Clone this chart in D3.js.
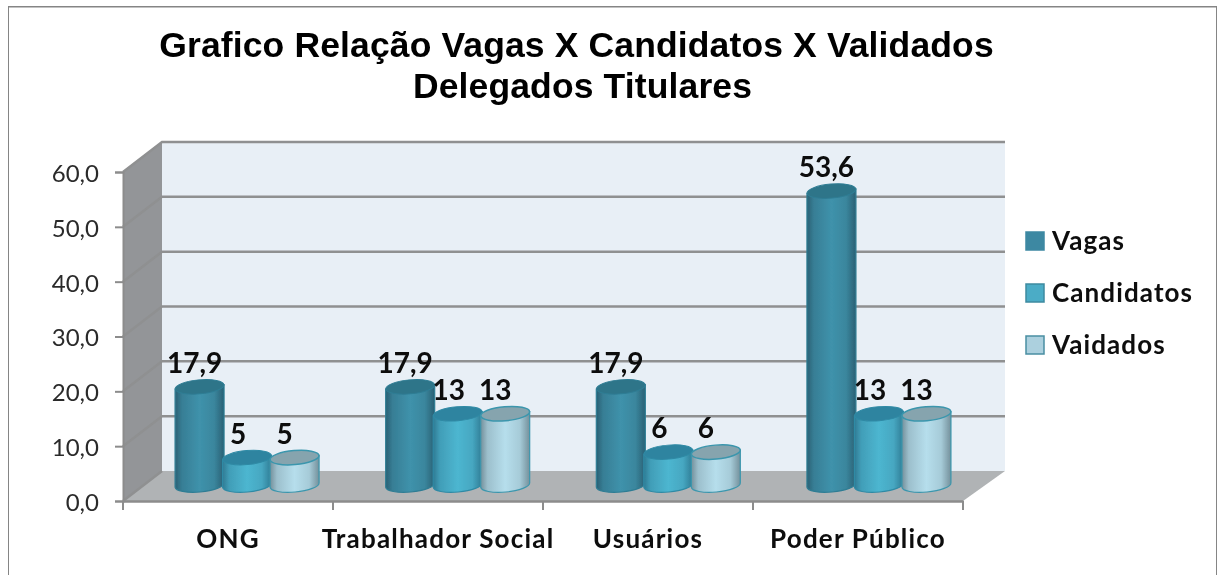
<!DOCTYPE html>
<html><head><meta charset="utf-8">
<script src="https://cdn.jsdelivr.net/npm/d3@7"></script>
<style>html,body{margin:0;padding:0;background:#fff;overflow:hidden}svg{display:block}</style>
</head><body><svg id="c" width="1218" height="575"></svg>
<script>
const categories=["ONG","Trabalhador Social","Usuários","Poder Público"];
const seriesNames=["Vagas","Candidatos","Vaidados"];
const vagas=[17.9,17.9,17.9,53.6];
const candidatos=[5,13,6,13];
const validados=[5,13,6,13];
const valueLabels=[["17,9","17,9","17,9","53,6"],["5","13","6","13"],["5","13","6","13"]];
const yTicks=[0,10,20,30,40,50,60];
const titleLines=["Grafico Relação Vagas X Candidatos X Validados","Delegados Titulares"];
const series=[vagas,candidatos,validados];
const palette=[
 {edge:"#2a6074",mid:"#3f92ab",top:"#2e7489",line:"#2f7d94",sw:"#3c88a2",swl:"#3c88a2"},
 {edge:"#2f7b94",mid:"#4db6d0",top:"#2f84a0",line:"#2f8aa5",sw:"#4bacc6",swl:"#3c8aa0"},
 {edge:"#74909b",mid:"#b6deec",top:"#86a4ae",line:"#3b96ad",sw:"#acd0de",swl:"#4a8ea2"}];

const root=d3.select("#c");
const defs=root.append("defs");
defs.append("filter").attr("id","soft").attr("x",0).attr("y",0).attr("width",1).attr("height",1)
  .append("feGaussianBlur").attr("stdDeviation",0.5);
root.append("rect").attr("width",1218).attr("height",575).attr("fill","#fff");
const svg=root.append("g").attr("filter","url(#soft)");
const fmt=d=>d3.format(".1f")(d).replace(".",",");
const xFront=d3.scaleBand().domain(categories).range([123,963]);
const xBars=d3.scaleBand().domain(categories).range([143.5,986]);
const xSeries=d3.scaleBand().domain([0,1,2]).range([-73,69.5]);
const yFront=d3.scaleLinear().domain([0,60]).range([501,172]);
const yBack=d3.scaleLinear().domain([0,60]).range([471,142]);
const yBar=d3.scaleLinear().domain([0,60]).range([485,156]);
const backR=1005, backL=162;

// frame
svg.append("path").attr("d","M8,580V6.5H1217V580").attr("fill","none").attr("stroke","#858585").attr("stroke-width",2);

// gradients
palette.forEach((p,i)=>{
  const g=defs.append("linearGradient").attr("id","cyl"+i);
  [[0,p.edge],[.14,d3.interpolateRgb(p.edge,p.mid)(.6)],[.5,p.mid],[.8,d3.interpolateRgb(p.edge,p.mid)(.75)],[1,p.edge]]
   .forEach(s=>g.append("stop").attr("offset",s[0]).attr("stop-color",s[1]));
});

// walls + floor
svg.append("rect").attr("x",backL).attr("y",yBack(60)).attr("width",backR-backL).attr("height",yBack(0)-yBack(60)).attr("fill","#e8eff6");
svg.append("path").attr("d",`M${xFront.range()[0]},${yFront(60)}L${backL},${yBack(60)}V${yBack(0)}L${xFront.range()[0]},${yFront(0)}Z`).attr("fill","#939598");
svg.append("path").attr("d",`M${xFront.range()[0]},${yFront(0)}L${backL},${yBack(0)}H${backR}L${xFront.range()[1]},${yFront(0)}Z`).attr("fill","#b0b3b5");

// gridlines
svg.append("g").selectAll("path").data(yTicks).join("path")
 .attr("d",d=>d===0
   ?`M${xFront.range()[0]},${yFront(d)}L${backL},${yBack(d)}`
   :`M${xFront.range()[0]},${yFront(d)}L${backL},${yBack(d)}H${backR}`)
 .attr("fill","none").attr("stroke","#8f9091").attr("stroke-width",2.5);

// axes
const axisY=d3.axisLeft(yFront).tickValues(yTicks).tickFormat(fmt).tickSize(8).tickPadding(16);
const gy=svg.append("g").attr("transform",`translate(${xFront.range()[0]},0)`).call(axisY);
gy.selectAll("path,line").attr("stroke","#8c8c8c").attr("stroke-width",2);
gy.selectAll("text").attr("font-family","Lato").attr("font-size",24).attr("fill","#2b2b2b").attr("dy","0.39em");
const axisX=d3.axisBottom(xFront).tickSize(0).tickPadding(29);
const gx=svg.append("g").attr("transform",`translate(0,${yFront(0)})`).call(axisX);
gx.select(".domain").attr("stroke","#8c8c8c").attr("stroke-width",2.5);
gx.selectAll("text").attr("font-family","Lato").attr("font-weight",700).attr("font-size",26).attr("letter-spacing",1.2).attr("fill","#0a0a0a").attr("dy","0.71em");
svg.append("g").selectAll("line").data([...categories.map(c=>xFront(c)),xFront.range()[1]]).join("line")
 .attr("x1",d=>d).attr("x2",d=>d).attr("y1",yFront(0)).attr("y2",yFront(0)+9).attr("stroke","#8c8c8c").attr("stroke-width",2);

// cylinders
const rx=24.5, ry=7, rot=-5;
const slope=Math.tan(rot*Math.PI/180)*rx;
const bars=svg.append("g");
series.forEach((vals,si)=>{
  const g=bars.append("g");
  categories.forEach((c,ci)=>{
    const cx=xBars(c)+xBars.bandwidth()/2+xSeries(si)+xSeries.bandwidth()/2;
    const yt=yBar(vals[ci]), yb=yBar(0);
    const L=cx-rx,R=cx+rx;
    g.append("path")
     .attr("d",`M${L},${yt-slope}L${L},${yb-slope}A${rx},${ry},${rot},0,0,${R},${yb+slope}L${R},${yt+slope}Z`)
     .attr("fill",`url(#cyl${si})`).attr("stroke",palette[si].line).attr("stroke-width",1.2);
    g.append("ellipse").attr("cx",cx).attr("cy",yt).attr("rx",rx).attr("ry",ry)
     .attr("transform",`rotate(${rot},${cx},${yt})`)
     .attr("fill",palette[si].top).attr("stroke",palette[si].line).attr("stroke-width",si==2?1.5:1);
  });
});

// value labels
const labelShift=[-5,-9,-10];
series.forEach((vals,si)=>{
  svg.append("g").selectAll("text").data(categories).join("text")
   .attr("x",c=>xBars(c)+xBars.bandwidth()/2+xSeries(si)+xSeries.bandwidth()/2+labelShift[si])
   .attr("y",(c,ci)=>yBar(vals[ci])-14)
   .attr("text-anchor","middle").attr("font-family","Lato").attr("font-weight",700).attr("font-size",28).attr("fill","#0a0a0a")
   .text((c,ci)=>valueLabels[si][ci]);
});

// title
const titleX=[576.5,582.5];
svg.append("g").selectAll("text").data(titleLines).join("text")
 .attr("x",(d,i)=>titleX[i]).attr("y",(d,i)=>57+i*41).attr("text-anchor","middle")
 .attr("font-family","Liberation Sans").attr("font-weight",700).attr("font-size",35.5).attr("letter-spacing",.13).attr("fill","#000").text(d=>d);

// legend
const yLegend=d3.scalePoint().domain(seriesNames).range([241,345]);
const lg=svg.append("g").selectAll("g").data(seriesNames).join("g").attr("transform",d=>`translate(1026,${yLegend(d)})`);
lg.append("rect").attr("x",0).attr("y",-9).attr("width",18).attr("height",18).attr("fill",(d,i)=>palette[i].sw).attr("stroke",(d,i)=>palette[i].swl).attr("stroke-width",1.5);
lg.append("text").attr("x",26).attr("y",9).attr("font-family","Lato").attr("font-weight",700).attr("font-size",26).attr("letter-spacing",1.1).attr("fill","#0a0a0a").text(d=>d);
</script></body></html>
